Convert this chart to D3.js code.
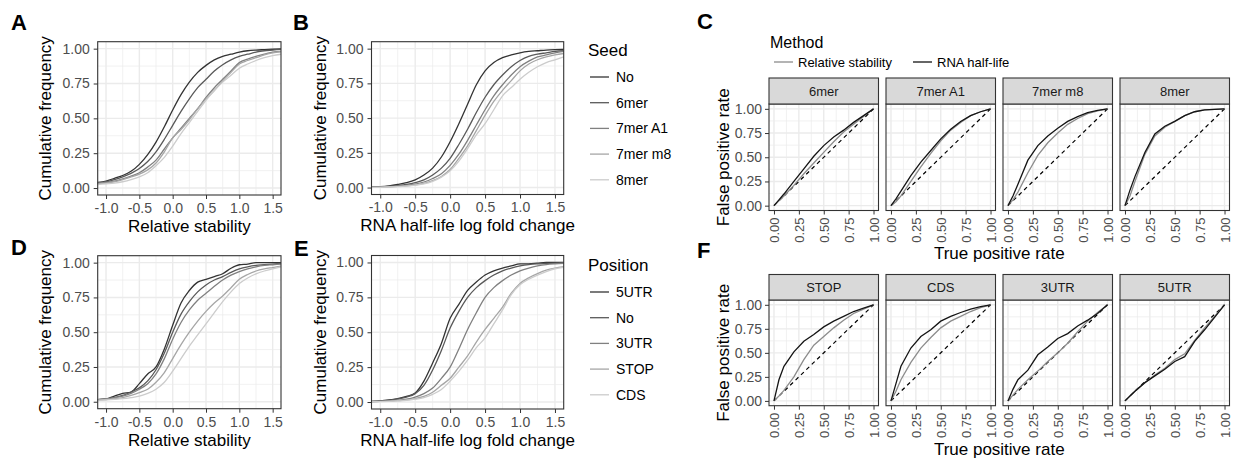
<!DOCTYPE html>
<html>
<head>
<meta charset="utf-8">
<script src="https://cdn.jsdelivr.net/npm/d3@7"></script>
<style>
  body { margin: 0; background: #fff; }
  svg { font-family: "Liberation Sans", Arial, Helvetica, sans-serif; }
</style>
</head>
<body>
<svg id="fig" width="1235" height="458"></svg>
<script>
// ---- data ----
var xGrid = [-1.125, -1.0, -0.875, -0.75, -0.625, -0.5, -0.375, -0.25, -0.125, 0, 0.125, 0.25,
             0.375, 0.5, 0.625, 0.75, 0.875, 1.0, 1.125, 1.25, 1.375, 1.5, 1.625];
var xTicks = [-1, -0.5, 0, 0.5, 1, 1.5];
var yTicks = [0, 0.25, 0.5, 0.75, 1];

var seedLabels = ["No", "6mer", "7mer A1", "7mer m8", "8mer"];
var seedStability = [
  [0.04, 0.05, 0.07, 0.09, 0.12, 0.17, 0.24, 0.33, 0.44, 0.56, 0.67, 0.76, 0.83, 0.88, 0.92, 0.945, 0.96, 0.975, 0.985, 0.99, 0.993, 0.996, 0.998],
  [0.035, 0.045, 0.06, 0.08, 0.105, 0.14, 0.19, 0.26, 0.35, 0.45, 0.55, 0.64, 0.72, 0.78, 0.84, 0.885, 0.92, 0.945, 0.96, 0.975, 0.985, 0.99, 0.995],
  [0.035, 0.04, 0.05, 0.065, 0.085, 0.11, 0.15, 0.2, 0.28, 0.36, 0.43, 0.5, 0.57, 0.65, 0.72, 0.78, 0.84, 0.9, 0.925, 0.945, 0.96, 0.975, 0.98],
  [0.03, 0.035, 0.045, 0.06, 0.08, 0.1, 0.13, 0.18, 0.26, 0.36, 0.42, 0.49, 0.57, 0.64, 0.7, 0.77, 0.83, 0.89, 0.915, 0.935, 0.955, 0.97, 0.978],
  [0.025, 0.03, 0.035, 0.045, 0.06, 0.08, 0.11, 0.16, 0.22, 0.3, 0.39, 0.47, 0.55, 0.63, 0.7, 0.76, 0.81, 0.86, 0.89, 0.915, 0.935, 0.95, 0.96]
];
var seedHalfLife = [
  [0.003, 0.006, 0.012, 0.022, 0.035, 0.055, 0.09, 0.14, 0.22, 0.33, 0.46, 0.6, 0.74, 0.84, 0.9, 0.935, 0.955, 0.97, 0.98, 0.985, 0.99, 0.993, 0.995],
  [0.002, 0.004, 0.008, 0.014, 0.022, 0.035, 0.055, 0.09, 0.14, 0.21, 0.31, 0.42, 0.54, 0.65, 0.74, 0.81, 0.87, 0.915, 0.945, 0.96, 0.97, 0.98, 0.985],
  [0.002, 0.003, 0.006, 0.01, 0.016, 0.025, 0.04, 0.065, 0.1, 0.16, 0.24, 0.34, 0.45, 0.56, 0.66, 0.74, 0.81, 0.87, 0.91, 0.94, 0.955, 0.97, 0.98],
  [0.002, 0.003, 0.005, 0.008, 0.013, 0.02, 0.03, 0.05, 0.08, 0.13, 0.21, 0.3, 0.41, 0.52, 0.62, 0.7, 0.77, 0.84, 0.89, 0.92, 0.94, 0.955, 0.965],
  [0.001, 0.002, 0.004, 0.007, 0.011, 0.017, 0.026, 0.045, 0.075, 0.12, 0.19, 0.28, 0.38, 0.46, 0.56, 0.66, 0.72, 0.78, 0.83, 0.87, 0.9, 0.92, 0.94]
];

var posLabels = ["5UTR", "No", "3UTR", "STOP", "CDS"];
var posStability = [
  [0.015, 0.02, 0.04, 0.06, 0.07, 0.13, 0.2, 0.25, 0.38, 0.55, 0.71, 0.8, 0.86, 0.88, 0.9, 0.92, 0.96, 0.985, 0.99, 1, 1, 1, 1],
  [0.015, 0.02, 0.03, 0.045, 0.07, 0.1, 0.15, 0.23, 0.35, 0.5, 0.63, 0.72, 0.79, 0.84, 0.875, 0.9, 0.93, 0.955, 0.97, 0.98, 0.985, 0.99, 0.995],
  [0.015, 0.02, 0.03, 0.04, 0.06, 0.09, 0.13, 0.2, 0.31, 0.45, 0.57, 0.66, 0.73, 0.78, 0.83, 0.875, 0.91, 0.935, 0.955, 0.97, 0.98, 0.985, 0.99],
  [0.012, 0.016, 0.022, 0.03, 0.045, 0.065, 0.09, 0.14, 0.21, 0.31, 0.41, 0.5, 0.58, 0.65, 0.71, 0.76, 0.82, 0.88, 0.915, 0.94, 0.955, 0.965, 0.975],
  [0.01, 0.013, 0.017, 0.022, 0.03, 0.04, 0.06, 0.09, 0.14, 0.22, 0.31, 0.4, 0.48, 0.56, 0.64, 0.72, 0.79, 0.85, 0.89, 0.92, 0.94, 0.955, 0.97]
];
var posHalfLife = [
  [0.005, 0.008, 0.015, 0.025, 0.04, 0.065, 0.15, 0.28, 0.42, 0.6, 0.7, 0.8, 0.86, 0.91, 0.94, 0.96, 0.975, 0.99, 0.99, 0.995, 1, 1, 1],
  [0.004, 0.007, 0.012, 0.022, 0.035, 0.06, 0.12, 0.23, 0.37, 0.53, 0.65, 0.75, 0.82, 0.87, 0.91, 0.94, 0.96, 0.975, 0.985, 0.99, 0.993, 0.996, 0.998],
  [0.003, 0.005, 0.008, 0.013, 0.02, 0.035, 0.06, 0.1, 0.17, 0.25, 0.38, 0.52, 0.64, 0.75, 0.82, 0.87, 0.91, 0.94, 0.96, 0.975, 0.985, 0.99, 0.993],
  [0.002, 0.004, 0.006, 0.01, 0.015, 0.025, 0.04, 0.07, 0.12, 0.17, 0.25, 0.33, 0.43, 0.52, 0.6, 0.68, 0.78, 0.85, 0.89, 0.92, 0.945, 0.96, 0.97],
  [0.002, 0.003, 0.005, 0.008, 0.012, 0.02, 0.032, 0.055, 0.09, 0.15, 0.22, 0.3, 0.39, 0.46, 0.56, 0.66, 0.77, 0.84, 0.88, 0.91, 0.935, 0.955, 0.965]
];
var greys = ["#333333", "#595959", "#808080", "#a6a6a6", "#cccccc"];

// ROC curves
var rocX = [0, 0.05, 0.1, 0.2, 0.3, 0.4, 0.5, 0.6, 0.7, 0.8, 0.9, 1];
var rocTicks = [0, 0.25, 0.5, 0.75, 1];
var methodLabels = ["Relative stability", "RNA half-life"];
var methodColors = ["#8c8c8c", "#141414"];

var seedFacets = ["6mer", "7mer A1", "7mer m8", "8mer"];
var seedRocStability = [
  [0, 0.05, 0.1, 0.21, 0.33, 0.44, 0.55, 0.66, 0.76, 0.84, 0.92, 1],
  [0, 0.04, 0.1, 0.25, 0.4, 0.54, 0.67, 0.78, 0.86, 0.93, 0.97, 1],
  [0, 0.06, 0.14, 0.34, 0.52, 0.65, 0.75, 0.84, 0.9, 0.95, 0.98, 1],
  [0, 0.1, 0.25, 0.53, 0.72, 0.81, 0.87, 0.93, 0.97, 0.99, 0.995, 1]
];
var seedRocHalfLife = [
  [0, 0.06, 0.12, 0.25, 0.38, 0.51, 0.62, 0.71, 0.78, 0.86, 0.93, 1],
  [0, 0.07, 0.15, 0.31, 0.45, 0.57, 0.69, 0.79, 0.87, 0.93, 0.97, 1],
  [0, 0.1, 0.22, 0.47, 0.62, 0.72, 0.8, 0.87, 0.92, 0.96, 0.985, 1],
  [0, 0.16, 0.3, 0.55, 0.74, 0.82, 0.87, 0.93, 0.97, 0.99, 0.995, 1]
];

var posFacets = ["STOP", "CDS", "3UTR", "5UTR"];
var posRocStability = [
  [0, 0.05, 0.11, 0.25, 0.43, 0.58, 0.67, 0.76, 0.84, 0.91, 0.955, 1],
  [0, 0.1, 0.22, 0.4, 0.55, 0.66, 0.76, 0.83, 0.88, 0.93, 0.97, 1],
  [0, 0.06, 0.12, 0.22, 0.31, 0.41, 0.5, 0.6, 0.72, 0.83, 0.92, 1],
  [0, 0.05, 0.1, 0.19, 0.27, 0.34, 0.43, 0.49, 0.63, 0.76, 0.88, 1]
];
var posRocHalfLife = [
  [0, 0.22, 0.36, 0.51, 0.62, 0.69, 0.77, 0.83, 0.88, 0.93, 0.965, 1],
  [0, 0.18, 0.36, 0.55, 0.67, 0.74, 0.83, 0.88, 0.92, 0.955, 0.98, 1],
  [0, 0.12, 0.22, 0.32, 0.48, 0.56, 0.65, 0.7, 0.78, 0.84, 0.91, 1],
  [0, 0.05, 0.1, 0.19, 0.26, 0.33, 0.41, 0.46, 0.62, 0.74, 0.87, 1]
];

// ---- drawing ----
var svg = d3.select("#fig");
var minorOf = function(t) {
  var m = [];
  for (var i = 1; i < t.length; i++) m.push((t[i] + t[i - 1]) / 2);
  return m;
};

function styleAxis(ax, size) {
  ax.select(".domain").remove();
  ax.selectAll(".tick line").attr("stroke", "#333333").attr("stroke-width", 1);
  ax.selectAll(".tick text").attr("fill", "#4d4d4d").style("font-size", size + "px");
}

function grid(g, x, y, xt, yt) {
  var l = x.range()[0], r = x.range()[1], b = y.range()[0], t = y.range()[1];
  g.append("rect").attr("x", l).attr("y", t).attr("width", r - l).attr("height", b - t).attr("fill", "#fff");
  minorOf(xt).forEach(function(v) {
    g.append("line").attr("x1", x(v)).attr("x2", x(v)).attr("y1", t).attr("y2", b).attr("stroke", "#ebebeb").attr("stroke-width", 0.7);
  });
  minorOf(yt).forEach(function(v) {
    g.append("line").attr("y1", y(v)).attr("y2", y(v)).attr("x1", l).attr("x2", r).attr("stroke", "#ebebeb").attr("stroke-width", 0.7);
  });
  xt.forEach(function(v) {
    g.append("line").attr("x1", x(v)).attr("x2", x(v)).attr("y1", t).attr("y2", b).attr("stroke", "#ebebeb").attr("stroke-width", 1.4);
  });
  yt.forEach(function(v) {
    g.append("line").attr("y1", y(v)).attr("y2", y(v)).attr("x1", l).attr("x2", r).attr("stroke", "#ebebeb").attr("stroke-width", 1.4);
  });
}

function border(g, x0, y0, x1, y1) {
  g.append("rect").attr("x", x0).attr("y", y0).attr("width", x1 - x0).attr("height", y1 - y0)
    .attr("fill", "none").attr("stroke", "#333333").attr("stroke-width", 1.1);
}

function drawEcdf(left, top, right, bottom, series, xTitle, yTitleX) {
  var x = d3.scaleLinear().domain([-1.125, 1.625]).range([left, right]);
  var y = d3.scaleLinear().domain([-0.05, 1.05]).range([bottom, top]);
  var g = svg.append("g");
  grid(g, x, y, xTicks, yTicks);

  var line = d3.line()
    .x(function(d, i) { return x(xGrid[i]); })
    .y(function(d) { return y(d); })
    .curve(d3.curveMonotoneX);
  series.forEach(function(s, i) {
    g.append("path").attr("d", line(s)).attr("fill", "none")
      .attr("stroke", greys[i]).attr("stroke-width", 1.3);
  });
  border(g, left, top, right, bottom);

  var ax = g.append("g").attr("transform", "translate(0," + bottom + ")")
    .call(d3.axisBottom(x).tickValues(xTicks).tickFormat(function(d) { return d.toFixed(1); }).tickSize(4).tickPadding(4));
  styleAxis(ax, 14);
  var ay = g.append("g").attr("transform", "translate(" + left + ",0)")
    .call(d3.axisLeft(y).tickValues(yTicks).tickFormat(function(d) { return d.toFixed(2); }).tickSize(4).tickPadding(4));
  styleAxis(ay, 14);

  g.append("text").attr("x", (left + right) / 2).attr("y", bottom + 31).attr("dy", "0.35em")
    .attr("text-anchor", "middle").style("font-size", "17px").text(xTitle);
  g.append("text").attr("transform", "translate(" + yTitleX + "," + (top + bottom) / 2 + ") rotate(-90)")
    .attr("dy", "0.35em").attr("text-anchor", "middle").style("font-size", "17px").text("Cumulative frequency");
}

function drawRoc(stripTop, panelTop, panelBottom, facets, stab, half) {
  var lefts = [769, 886, 1003, 1120];
  var w = 109.5;
  var y = d3.scaleLinear().domain([-0.05, 1.05]).range([panelBottom, panelTop]);
  facets.forEach(function(name, f) {
    var x = d3.scaleLinear().domain([-0.05, 1.05]).range([lefts[f], lefts[f] + w]);
    var g = svg.append("g");
    grid(g, x, y, rocTicks, rocTicks);

    g.append("line").attr("x1", x(0)).attr("y1", y(0)).attr("x2", x(1)).attr("y2", y(1))
      .attr("stroke", "#000").attr("stroke-width", 1.2).attr("stroke-dasharray", "4,3.5");
    var line = d3.line()
      .x(function(d, i) { return x(rocX[i]); })
      .y(function(d) { return y(d); });
    [stab[f], half[f]].forEach(function(s, m) {
      g.append("path").attr("d", line(s)).attr("fill", "none")
        .attr("stroke", methodColors[m]).attr("stroke-width", 1.3);
    });
    border(g, lefts[f], panelTop, lefts[f] + w, panelBottom);

    // strip
    g.append("rect").attr("x", lefts[f]).attr("y", stripTop).attr("width", w).attr("height", panelTop - stripTop)
      .attr("fill", "#d9d9d9").attr("stroke", "#333333").attr("stroke-width", 1.1);
    g.append("text").attr("x", lefts[f] + w / 2).attr("y", (stripTop + panelTop) / 2).attr("dy", "0.35em")
      .attr("text-anchor", "middle").attr("fill", "#1a1a1a").style("font-size", "13px").text(name);

    var ax = g.append("g").attr("transform", "translate(0," + panelBottom + ")")
      .call(d3.axisBottom(x).tickValues(rocTicks).tickFormat(function(d) { return d.toFixed(2); }).tickSize(4));
    styleAxis(ax, 13);
    ax.selectAll(".tick text").attr("transform", "rotate(-90)").attr("x", -7).attr("y", 0)
      .attr("dy", "0.35em").style("text-anchor", "end");

    if (f === 0) {
      var ay = g.append("g").attr("transform", "translate(" + lefts[f] + ",0)")
        .call(d3.axisLeft(y).tickValues(rocTicks).tickFormat(function(d) { return d.toFixed(2); }).tickSize(4).tickPadding(3));
      styleAxis(ay, 14);
    }
  });
  var cx = (lefts[0] + lefts[3] + w) / 2;
  svg.append("text").attr("x", cx).attr("y", panelBottom + 43).attr("dy", "0.35em")
    .attr("text-anchor", "middle").style("font-size", "17px").text("True positive rate");
  svg.append("text").attr("transform", "translate(723," + (panelTop + panelBottom) / 2 + ") rotate(-90)")
    .attr("dy", "0.35em").attr("text-anchor", "middle").style("font-size", "17px").text("False positive rate");
}

function greyLegend(x0, titleY, title, labels) {
  svg.append("text").attr("x", x0).attr("y", titleY).attr("dy", "0.35em").style("font-size", "17px").text(title);
  labels.forEach(function(lab, i) {
    var yy = titleY + 27 + i * 25.7;
    svg.append("line").attr("x1", x0 + 2).attr("x2", x0 + 21).attr("y1", yy).attr("y2", yy)
      .attr("stroke", greys[i]).attr("stroke-width", 1.3);
    svg.append("text").attr("x", x0 + 28).attr("y", yy).attr("dy", "0.35em").style("font-size", "14px").text(lab);
  });
}

drawEcdf(97.7, 41.7, 281, 195, seedStability, "Relative stability", 45);
drawEcdf(371.5, 41.7, 563.7, 194.5, seedHalfLife, "RNA half-life log fold change", 320);
drawEcdf(97.7, 255.7, 281, 408.7, posStability, "Relative stability", 45);
drawEcdf(371.5, 255.5, 563.7, 409, posHalfLife, "RNA half-life log fold change", 320);

greyLegend(588, 50, "Seed", seedLabels);
greyLegend(588, 265, "Position", posLabels);

drawRoc(78, 104, 210.5, seedFacets, seedRocStability, seedRocHalfLife);
drawRoc(274.5, 300, 405.7, posFacets, posRocStability, posRocHalfLife);

// method legend
svg.append("text").attr("x", 770).attr("y", 42).attr("dy", "0.35em").style("font-size", "16px").text("Method");
var keyX = [774, 913];
methodLabels.forEach(function(lab, i) {
  svg.append("line").attr("x1", keyX[i]).attr("x2", keyX[i] + 19).attr("y1", 62).attr("y2", 62)
    .attr("stroke", methodColors[i]).attr("stroke-width", 1.3);
  svg.append("text").attr("x", keyX[i] + 24).attr("y", 62).attr("dy", "0.35em").style("font-size", "13px").text(lab);
});

// panel letters
var letters = [["A", 11, 30], ["B", 293, 30], ["C", 697, 29], ["D", 11, 255], ["E", 294, 256], ["F", 697, 258]];
letters.forEach(function(l) {
  svg.append("text").attr("x", l[1]).attr("y", l[2]).style("font-size", "22px").style("font-weight", "bold").text(l[0]);
});
</script>
</body>
</html>
